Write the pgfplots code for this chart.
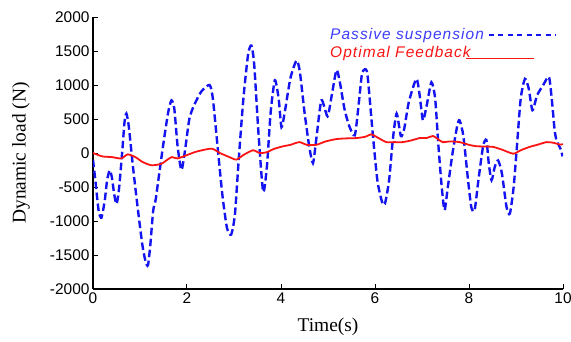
\documentclass[border=0pt]{standalone}
\usepackage{pgfplots}
\pgfplotsset{compat=1.18}
\usepackage{fontspec}
\setmainfont{Liberation Serif}
\newfontfamily\sansf{Liberation Sans}
\newfontfamily\legf[LetterSpace=7]{Liberation Sans}
\definecolor{myblue}{RGB}{20,20,240}
\definecolor{myred}{RGB}{250,20,20}
\definecolor{legblue}{RGB}{60,60,250}
\begin{document}
\begin{tikzpicture}
\begin{axis}[
  scale only axis, width=470bp, height=272bp,
  xmin=0, xmax=10, ymin=-2000, ymax=2000,
  axis x line*=bottom, axis y line*=left,
  axis line style={line width=1.1bp},
  xtick={0,2,...,10}, ytick={-2000,-1500,...,2000},
  tick align=inside, major tick length=5bp,
  tick style={line width=1bp, black},
  /pgf/number format/assume math mode=true,
  /pgf/number format/1000 sep={},
  ticklabel style={font=\fontsize{15.5}{18}\sansf},
  xlabel={Time(s)}, ylabel={Dynamic load (N)},
  label style={font=\fontsize{19.5}{22}\selectfont},
  xlabel style={at={(axis description cs:0.5,-0.14)}, anchor=center},
  ylabel style={at={(axis description cs:-0.153,0.5)}, anchor=center},
  legend plot pos=right,
  legend cell align=left,
  legend style={draw=none, fill=none, at={(axis description cs:0.500,0.965)}, anchor=north west,
    font=\fontsize{15.5}{17}\legf\itshape, inner sep=0pt, row sep=0.5bp, column sep=-21bp},
]
\addplot[color=myblue, line width=2.4bp, dash pattern=on 7.5bp off 3.5bp, smooth, tension=0.4,
  legend image code/.code={\path[draw=none] (-23bp,0bp) -- (0bp,0bp); \draw[myblue, line width=1.3bp, dash pattern=on 5bp off 4.5bp] (0bp,0bp) -- (67bp,0bp);}]
coordinates {
(0,-100) (0.05,-400) (0.12,-850) (0.18,-950) (0.25,-700) (0.30,-400) (0.355,-254)
(0.40,-350) (0.45,-600) (0.50,-750) (0.55,-550) (0.62,0) (0.67,450) (0.71,580)
(0.76,400) (0.85,-200) (0.95,-800) (1.05,-1350) (1.12,-1600) (1.17,-1650) (1.22,-1350)
(1.28,-850) (1.33,-700) (1.40,-350) (1.50,150) (1.60,600) (1.67,775) (1.73,650)
(1.80,100) (1.88,-250) (1.95,0) (2.05,500) (2.15,700) (2.30,900) (2.48,1000)
(2.55,800) (2.65,100) (2.75,-600) (2.85,-1100) (2.94,-1200) (3.02,-900) (3.10,-100)
(3.20,800) (3.30,1450) (3.37,1580) (3.43,1300) (3.52,300) (3.62,-570) (3.70,-200)
(3.78,600) (3.87,1070) (3.95,800) (4.01,380) (4.08,600) (4.20,1100) (4.33,1360)
(4.40,1200) (4.50,600) (4.60,100) (4.68,-150) (4.75,200) (4.86,775) (4.99,540)
(5.08,850) (5.18,1220) (5.25,1050) (5.35,650) (5.45,400) (5.57,260) (5.65,700)
(5.72,1150) (5.78,1230) (5.84,1150) (5.95,300) (6.05,-400) (6.15,-720) (6.21,-750)
(6.30,-400) (6.38,200) (6.46,580) (6.55,250) (6.62,350) (6.72,750) (6.88,1090)
(6.95,850) (7.02,480) (7.10,700) (7.20,1040) (7.28,800) (7.35,100) (7.42,-500)
(7.48,-840) (7.55,-500) (7.65,0) (7.75,400) (7.80,480) (7.88,250) (7.98,-400)
(8.05,-800) (8.12,-840) (8.20,-400) (8.30,100) (8.37,190) (8.42,-150) (8.48,-400)
(8.55,-200) (8.62,-110) (8.70,-300) (8.80,-800) (8.87,-890) (8.95,-500) (9.02,100)
(9.10,800) (9.19,1090) (9.27,950) (9.35,630) (9.45,850) (9.58,1000) (9.70,1120)
(9.76,800) (9.82,350) (9.86,190) (9.92,100) (9.96,40) (9.99,-50)
};
\addlegendentry[text=legblue]{Passive suspension}
\addplot[color=myred, line width=1.8bp, smooth, tension=0.4,
  legend image code/.code={\path[draw=none] (-23bp,0bp) -- (67bp,0bp); \draw[myred, line width=1.3bp] (-23bp,-6.5bp) -- (0bp,-6.5bp) -- (45bp,-6.5bp);}]
coordinates {
(0,0) (0.2,-50) (0.4,-60) (0.6,-80) (0.74,-20) (0.9,-60) (1.05,-130) (1.24,-180)
(1.45,-160) (1.60,-90) (1.68,-60) (1.80,-80) (2.0,-30) (2.2,20) (2.52,64) (2.7,0)
(2.9,-60) (3.05,-97) (3.20,-30) (3.40,40) (3.55,0) (3.69,10) (3.85,60) (4.04,98)
(4.20,120) (4.39,160) (4.55,120) (4.75,120) (4.95,170) (5.18,205) (5.40,215)
(5.61,220) (5.80,240) (5.92,275) (6.05,230) (6.24,160) (6.40,160) (6.59,160)
(6.80,190) (6.95,220) (7.10,220) (7.23,250) (7.35,200) (7.44,160) (7.60,170)
(7.80,160) (8.00,120) (8.15,100) (8.35,95) (8.51,90) (8.70,50) (8.94,-10)
(9.10,40) (9.29,90) (9.45,120) (9.65,160) (9.80,150) (9.93,125) (10.0,130)
};
\addlegendentry[text=myred]{Optimal Feedback}
\end{axis}
\pgfresetboundingbox
\useasboundingbox ([xshift=-93bp,yshift=-53bp]current axis.south west) rectangle ([xshift=8bp,yshift=17bp]current axis.north east);
\end{tikzpicture}
\end{document}
